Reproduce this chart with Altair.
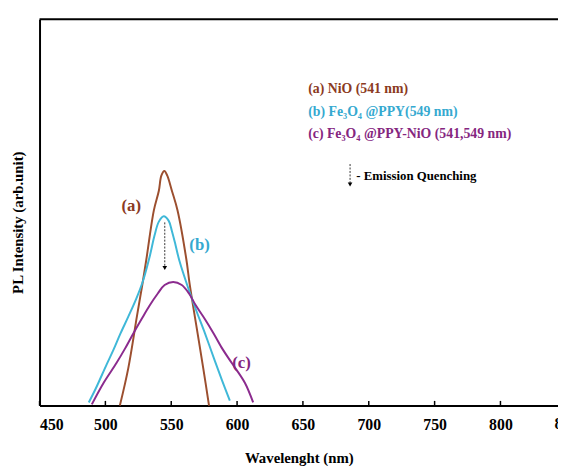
import altair as alt
import pandas as pd

# ---------------- data ----------------
wl_a = [511.0, 517.4, 524.0, 528.1, 531.1, 536.8, 540.6, 542.5, 544.8, 547.0, 550.5, 554.8, 561.5, 564.0, 569.0, 574.3, 578.7]
int_a = [0.0, 9.7, 23.2, 31.4, 37.8, 50.5, 55.6, 59.5, 60.7, 59.5, 55.6, 50.5, 37.8, 31.4, 20.8, 9.7, 0.0]

wl_b = [487.4, 492.7, 500.9, 506.1, 511.4, 517.4, 523.4, 528.6, 533.6, 537.3, 540.6, 544.3, 548.1, 550.5, 553.3, 556.1, 562.3, 569.0, 575.7, 583.2, 588.5, 594.5]
int_b = [0.8, 4.4, 10.6, 14.4, 18.6, 23.0, 27.6, 32.3, 38.5, 44.0, 47.6, 49.0, 47.8, 45.2, 41.5, 37.6, 31.0, 24.6, 18.6, 11.5, 6.6, 1.3]

wl_c = [489.7, 498.7, 508.4, 515.0, 521.1, 527.5, 533.6, 539.8, 545.0, 551.5, 558.0, 563.5, 568.5, 575.5, 582.3, 589.0, 596.0, 605.9, 612.2]
int_c = [0.3, 5.9, 11.0, 14.8, 18.6, 22.4, 25.9, 29.0, 31.2, 32.0, 31.2, 29.0, 26.0, 22.4, 18.6, 14.6, 11.0, 5.9, 0.8]

series_names = ["(a)", "(b)", "(c)"]
series_colors = ["#9c4f2f", "#3fb8d8", "#8b2b8e"]

tick_values = [450, 500, 550, 600, 650, 700, 750, 800]
cut_tick_label = [850]

legend_lines = ["(a) NiO (541 nm)", "(b) Fe₃O₄ @PPY(549 nm)", "(c) Fe₃O₄ @PPY-NiO (541,549 nm)"]
legend_x = [654.0, 654.0, 654.0]
legend_y = [81.9, 75.9, 70.2]
legend_colors = ["#8b3a22", "#35a9d0", "#85267f"]

curve_label_x = [519.6, 571.5, 603.4]
curve_label_y = [51.5, 41.6, 11.0]

quench_x = [545.1]
quench_top = [47.4]
quench_bottom = [35.6]

note_text = ["- Emission Quenching"]
note_arrow_x = [685.8]
note_arrow_top = [62.5]
note_arrow_bottom = [57.2]
note_text_x = [690.5]
note_text_y = [59.4]

# ---------------- chart ----------------
FONT = "Liberation Serif"
X_DOMAIN = [450, 843.7]
Y_DOMAIN = [0, 100]

xs = alt.Scale(domain=X_DOMAIN, nice=False, zero=False)
ys = alt.Scale(domain=Y_DOMAIN, nice=False, zero=False)

rows = []
for name, wl, iv in zip(series_names, [wl_a, wl_b, wl_c], [int_a, int_b, int_c]):
    for w, v in zip(wl, iv):
        rows.append({"series": name, "wl": w, "I": v})
df = pd.DataFrame(rows)

lines = alt.Chart(df).mark_line(strokeWidth=2, interpolate="catmull-rom").encode(
    x=alt.X("wl:Q", scale=xs, axis=alt.Axis(
        values=tick_values, format="d", title="Wavelenght (nm)",
        ticks=False, tickSize=0, grid=False,
        labelPadding=11, titleX=263, titleY=53, titleBaseline="middle", titleAlign="center")),
    y=alt.Y("I:Q", scale=ys, axis=alt.Axis(
        labels=False, ticks=False, tickSize=0, grid=False,
        title="PL Intensity (arb.unit)",
        titleX=-22, titleY=206, titleAngle=270, titleAlign="center", titleBaseline="middle")),
    color=alt.Color("series:N", scale=alt.Scale(domain=series_names, range=series_colors), legend=None),
    detail="series:N",
)

top_line = alt.Chart(pd.DataFrame({"y": [Y_DOMAIN[1]]})).mark_rule(color="black", strokeWidth=2).encode(
    y=alt.Y("y:Q", scale=ys)
)

tick_df = pd.DataFrame({"x": tick_values, "y0": [0] * len(tick_values), "y1": [1.2] * len(tick_values)})
ticks = alt.Chart(tick_df).mark_rule(color="black", strokeWidth=1.5).encode(
    x=alt.X("x:Q", scale=xs), y=alt.Y("y0:Q", scale=ys), y2="y1:Q"
)

cut_label = alt.Chart(pd.DataFrame({"x": cut_tick_label, "y": [0], "t": ["850"]})).mark_text(
    font=FONT, fontSize=16, fontWeight="bold", baseline="top", dy=11, color="black"
).encode(x=alt.X("x:Q", scale=xs), y=alt.Y("y:Q", scale=ys), text="t:N")

leg_df = pd.DataFrame({"x": legend_x, "y": legend_y, "t": legend_lines, "c": legend_colors})
legend_text = alt.Chart(leg_df).mark_text(
    font=FONT, fontSize=14, fontWeight="bold", align="left", baseline="middle"
).encode(x=alt.X("x:Q", scale=xs), y=alt.Y("y:Q", scale=ys), text="t:N",
         color=alt.Color("c:N", scale=None))

cl_df = pd.DataFrame({"x": curve_label_x, "y": curve_label_y, "t": series_names, "c": legend_colors})
curve_labels = alt.Chart(cl_df).mark_text(
    font=FONT, fontSize=17, fontWeight="bold", align="center", baseline="middle"
).encode(x=alt.X("x:Q", scale=xs), y=alt.Y("y:Q", scale=ys), text="t:N",
         color=alt.Color("c:N", scale=None))

arrows_df = pd.DataFrame({
    "x": quench_x + note_arrow_x,
    "y0": quench_top + note_arrow_top,
    "y1": quench_bottom + note_arrow_bottom,
})
arrow_shafts = alt.Chart(arrows_df).mark_rule(color="#333333", strokeWidth=1, strokeDash=[2, 1.5]).encode(
    x=alt.X("x:Q", scale=xs), y=alt.Y("y0:Q", scale=ys), y2="y1:Q"
)
arrow_heads = alt.Chart(arrows_df).mark_point(
    shape="triangle-down", filled=True, color="black", size=22, opacity=1
).encode(x=alt.X("x:Q", scale=xs), y=alt.Y("y1:Q", scale=ys))

note = alt.Chart(pd.DataFrame({"x": note_text_x, "y": note_text_y, "t": note_text})).mark_text(
    font=FONT, fontSize=13, fontWeight="bold", align="left", baseline="middle", color="black"
).encode(x=alt.X("x:Q", scale=xs), y=alt.Y("y:Q", scale=ys), text="t:N")

chart = alt.layer(
    top_line, ticks, lines, arrow_shafts, arrow_heads, curve_labels, legend_text, note, cut_label
).properties(
    width=526, height=392,
    autosize=alt.AutoSizeParams(type="none"),
    padding={"left": 32, "top": 8, "right": 0, "bottom": 58},
    background="white",
).configure_view(stroke=None).configure_axis(
    domainColor="black", domainWidth=2,
    labelFont=FONT, labelFontSize=16, labelFontWeight="bold", labelColor="black",
    titleFont=FONT, titleFontSize=15, titleFontWeight="bold", titleColor="black",
)

chart.save("out.html", embed_options={"renderer": "svg", "actions": False})
